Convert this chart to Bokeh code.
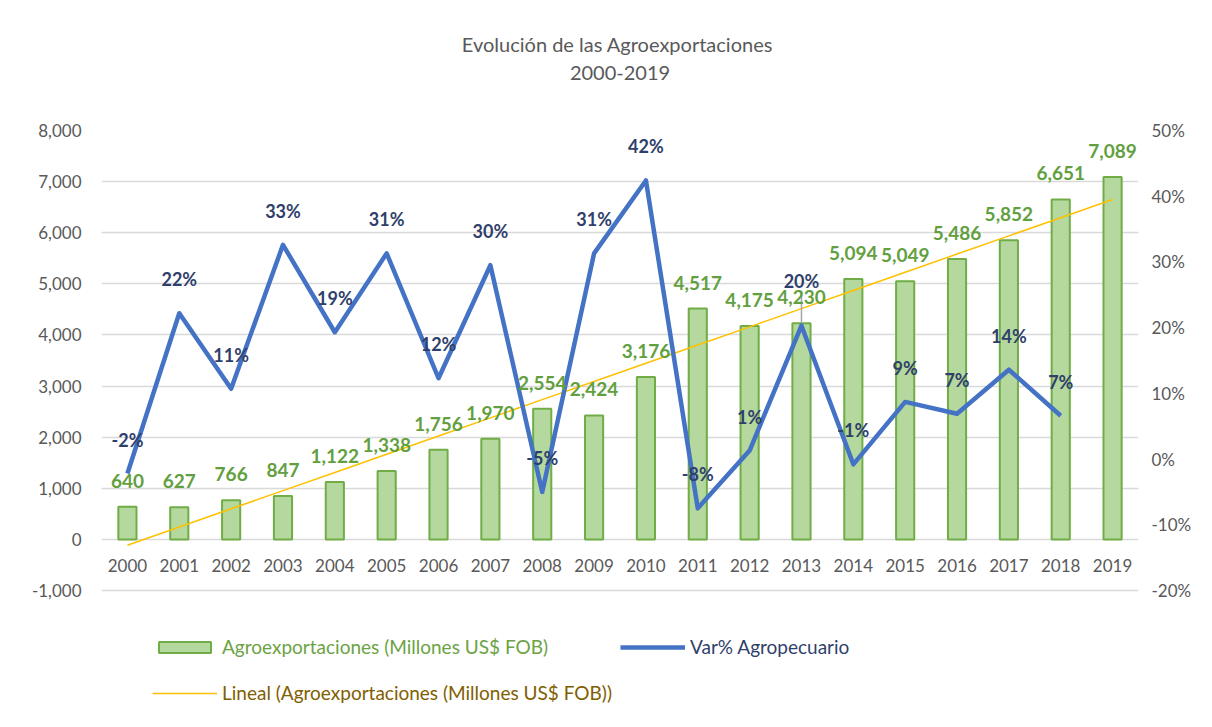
import numpy as np
from bokeh.plotting import figure
from bokeh.models import (Range1d, FactorRange, LinearAxis, FixedTicker,
                          NumeralTickFormatter, PrintfTickFormatter, Legend, LegendItem,
                          Title, Grid)
from bokeh.core.properties import value
from bokeh.embed import file_html
from bokeh.resources import INLINE

# ---------------- data ----------------
years = [str(y) for y in range(2000, 2020)]
agro = [640, 627, 766, 847, 1122, 1338, 1756, 1970, 2554, 2424,
        3176, 4517, 4175, 4230, 5094, 5049, 5486, 5852, 6651, 7089]
var_years = years[:19]
var_pct = [-2.2, 22.2, 10.7, 32.6, 19.3, 31.3, 12.3, 29.5, -5.0, 31.3,
           42.4, -7.5, 1.3, 20.3, -0.8, 8.7, 6.9, 13.6, 6.6]
left_ticks = list(range(-1000, 8001, 1000))
right_ticks = list(range(-20, 51, 10))

title_main = "Evolución  de las Agroexportaciones"
title_sub = "2000-2019"
lbl_bar = "Agroexportaciones (Millones US$ FOB)"
lbl_var = "Var% Agropecuario"
lbl_trend = "Lineal (Agroexportaciones (Millones US$ FOB))"

# linear trendline (least squares of the bar series)
idx = np.arange(len(agro))
coef = np.polyfit(idx, agro, 1)
trend = list(np.polyval(coef, idx))

# ---------------- style / layout ----------------
FONT = "Lato"
GRAY = "#595959"
BAR_FILL = "#B4D89D"
BAR_LINE = "#70AD47"
BLUE = "#4472C4"
GOLD = "#FFC000"
GREEN_TXT = "#62A03F"
NAVY_TXT = "#2F3F6B"

W, H = 1196, 711
LEFT, RIGHT, TOP = 101, 58, 130
frame_h = H - TOP
grid_h = 460.0  # pixels spanned by -1,000 .. 8,000
y_lo = 8000 - 9000 * frame_h / grid_h
p_lo = 50 - 70 * frame_h / grid_h
px_per_pct = grid_h / 70.0

# data-label offsets (screen px, upward negative); one label moved up with a leader line
var_dy = [-34] * len(var_pct)
moved = var_years.index("2013")
var_dy[moved] = -45

p = figure(x_range=FactorRange(*years), y_range=Range1d(y_lo, 8000),
           width=W, height=H, output_backend="svg", toolbar_location=None,
           x_axis_location=None, y_axis_location=None,
           min_border_left=LEFT, min_border_right=RIGHT, min_border_top=TOP,
           min_border_bottom=0, outline_line_color=None)
p.center = [r for r in p.center if not isinstance(r, Grid)]
p.extra_y_ranges = {"pct": Range1d(p_lo, 50)}

def style_axis(ax, standoff):
    ax.axis_line_color = None
    ax.major_tick_line_color = None
    ax.minor_tick_line_color = None
    ax.major_label_text_font = FONT
    ax.major_label_text_font_size = "17px"
    ax.major_label_text_color = GRAY
    ax.major_label_standoff = standoff

yl = LinearAxis(ticker=FixedTicker(ticks=left_ticks),
                formatter=NumeralTickFormatter(format="0,0"))
style_axis(yl, 14)
p.add_layout(yl, "left")

yr = LinearAxis(y_range_name="pct", ticker=FixedTicker(ticks=right_ticks),
                formatter=PrintfTickFormatter(format="%d%%"))
style_axis(yr, 7)
p.add_layout(yr, "right")

p.add_layout(Grid(dimension=1, ticker=yl.ticker, grid_line_color="#D9D9D9",
                  grid_line_width=1.5))

# titles: a blank spacer panel next to the frame, then the two title lines
p.add_layout(Title(text=" ", text_font_size="2px", standoff=38), "above")
p.add_layout(Title(text=title_sub, align="center", text_font=FONT, text_font_size="20px",
                   text_color=GRAY, text_font_style="normal", standoff=17), "above")
p.add_layout(Title(text=title_main, align="center", text_font=FONT, text_font_size="20px",
                   text_color=GRAY, text_font_style="normal", standoff=0), "above")

r_bar = p.vbar(x=years, top=agro, bottom=0, width=0.35, fill_color=BAR_FILL,
               line_color=BAR_LINE, line_width=2)
r_trend = p.line(x=years, y=trend, line_color=GOLD, line_width=1.5)
r_var = p.line(x=var_years, y=var_pct, y_range_name="pct", line_color=BLUE,
               line_width=4.5, line_join="round")

# leader line of the moved label
lv = var_pct[moved]
p.segment(x0=[var_years[moved]], x1=[var_years[moved]],
          y0=[lv + 0.5], y1=[lv + (-var_dy[moved] - 10) / px_per_pct],
          y_range_name="pct", line_color="#A6A6A6", line_width=1.5)

# category labels under the zero line
p.text(x=years, y=0, text=years, y_offset=26, text_align="center",
       text_baseline="middle", text_font=value(FONT), text_font_size="17px",
       text_color=GRAY)

p.text(x=years, y=agro, text=[f"{v:,}" for v in agro], y_offset=-26,
       text_align="center", text_baseline="middle", text_font=value(FONT),
       text_font_size="19px", text_font_style="bold", text_color=GREEN_TXT)
p.text(x=var_years, y=var_pct, y_range_name="pct",
       text=[f"{round(v)}%" for v in var_pct], y_offset=var_dy,
       text_align="center", text_baseline="middle", text_font=value(FONT),
       text_font_size="18px", text_font_style="bold", text_color=NAVY_TXT)

def mk_legend(label, r, loc, color):
    lg = Legend(items=[LegendItem(label=label, renderers=[r])], location=loc,
                label_text_color=color, label_text_font=FONT, label_text_font_size="19px",
                glyph_width=65, glyph_height=14, label_standoff=5, padding=0, margin=0,
                border_line_color=None, background_fill_alpha=0, label_height=20)
    p.add_layout(lg)

mk_legend(lbl_bar, r_bar, (51, 53), "#6BA344")
mk_legend(lbl_var, r_var, (519, 53), NAVY_TXT)
mk_legend(lbl_trend, r_trend, (51, 7), "#7F6000")

open("out.html", "w").write(file_html(p, INLINE))
